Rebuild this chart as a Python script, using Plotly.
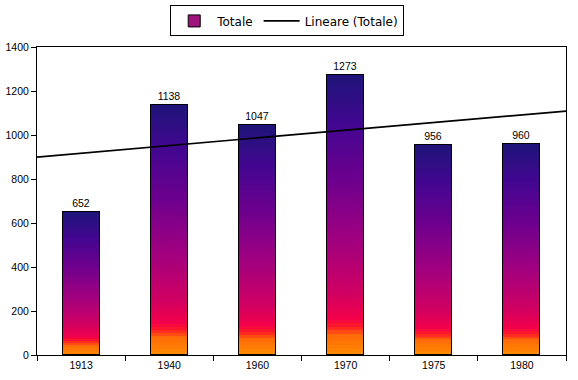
import numpy as np
import plotly.graph_objects as go
from plotly.colors import sample_colorscale

# ---- data ----
years = ["1913", "1940", "1960", "1970", "1975", "1980"]
totale = [652, 1138, 1047, 1273, 956, 960]
series_name = "Totale"
trend_name = "Lineare (Totale)"

# gradient (fraction of bar height from bottom -> colour)
grad_scale = [
    [0.00, "#FF8C00"],
    [0.07, "#FF6A08"],
    [0.10, "#FF1A28"],
    [0.13, "#F2004A"],
    [0.22, "#D00062"],
    [0.40, "#A2007E"],
    [0.62, "#6E008E"],
    [0.82, "#420690"],
    [1.00, "#1E1478"],
]
N_SEG = 80

fig = go.Figure()

vals = np.array(totale, dtype=float)
seg_colors = sample_colorscale(grad_scale, [(k + 0.5) / N_SEG for k in range(N_SEG)])
for k in range(N_SEG):
    fig.add_trace(go.Bar(
        x=years, y=vals / N_SEG, width=0.42,
        marker=dict(color=seg_colors[k], line=dict(width=0)),
        showlegend=False, hoverinfo="skip", xaxis="x", yaxis="y",
    ))

idx = np.arange(len(years))
# outline + labels
fig.add_trace(go.Bar(
    x=idx, y=vals, width=0.42,
    marker=dict(color="rgba(0,0,0,0)", line=dict(color="black", width=1)),
    text=[str(v) for v in totale], textposition="outside",
    textfont=dict(family="Liberation Sans", size=10.5, color="black"),
    cliponaxis=False, showlegend=False, xaxis="x2", yaxis="y",
))
# legend swatch for bars
fig.add_trace(go.Bar(
    x=[None], y=[None], name=series_name,
    marker=dict(color="#A0127E", line=dict(color="black", width=1)),
    xaxis="x2", yaxis="y",
))
# linear trendline
slope, intercept = np.polyfit(idx + 1, vals, 1)
tx = np.array([-0.5, len(years) - 0.5])
ty = slope * (tx + 1) + intercept
fig.add_trace(go.Scatter(
    x=tx, y=ty, mode="lines", name=trend_name,
    line=dict(color="black", width=1.7), xaxis="x2", yaxis="y",
))

fig.update_layout(
    width=578, height=380,
    margin=dict(l=37, r=12, t=47, b=25, autoexpand=False),
    paper_bgcolor="white", plot_bgcolor="white",
    barmode="stack", bargap=0,
    font=dict(family="Liberation Sans", size=10, color="black"),
    xaxis=dict(
        type="category", range=[-0.5, 5.5], tickson="boundaries",
        ticks="outside", ticklen=5, tickcolor="black",
        showline=True, linecolor="black", linewidth=1, mirror=True,
        showgrid=False, automargin=False,
        tickfont=dict(family="Liberation Sans", size=10.5),
    ),
    xaxis2=dict(
        overlaying="x", range=[-0.5, 5.5], visible=False, showgrid=False,
    ),
    yaxis=dict(
        range=[0, 1400], dtick=200, ticks="outside", ticklen=5, tickcolor="black",
        showline=True, linecolor="black", linewidth=1, mirror=True,
        showgrid=False, zeroline=False, automargin=False,
        tickfont=dict(family="Liberation Sans", size=10.5),
    ),
    legend=dict(
        orientation="h", x=0.473, xanchor="center", y=1.135, yanchor="top",
        bordercolor="black", borderwidth=1, bgcolor="white",
        font=dict(family="DejaVu Sans", size=12, color="black"),
        traceorder="normal", itemwidth=36,
    ),
)

fig.write_html("out.html", post_script="document.body.style.margin='0';",
               config={"displayModeBar": False})
